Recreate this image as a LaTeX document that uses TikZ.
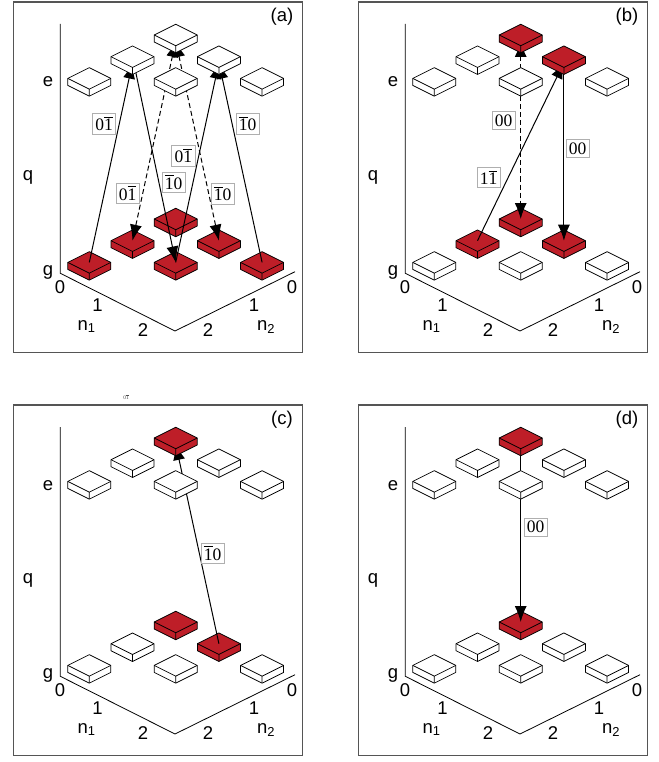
\documentclass[tikz,border=0pt]{standalone}
\usepackage{fontspec}
\setmainfont{Liberation Sans}
\newfontfamily\serifx{Liberation Serif}
\usetikzlibrary{arrows.meta}
\definecolor{tred}{RGB}{190,30,40}
\definecolor{lblgray}{RGB}{175,175,175}
\definecolor{framegray}{RGB}{85,85,85}
\newcommand\ob[1]{\leavevmode\vbox{\hrule height 0.045em\kern 0.09em\hbox{#1}}}
\tikzset{
  tile/.pic={
    \filldraw[fill=#1, line width=0.75pt, line join=round] (-21.5,0) -- (0,-10.75) -- (21.5,0) -- (21.5,7) -- (0,17.75) -- (-21.5,7) -- cycle;
    \draw[line width=0.75pt, line join=round] (-21.5,0) -- (0,10.75) -- (21.5,0) (0,10.75) -- (0,17.75);
  },
  axl/.style={font=\fontsize{18.5}{20}\selectfont, inner sep=0pt, anchor=base},
  axisline/.style={line width=0.8pt, line join=miter},
  frameline/.style={draw=framegray, line width=1.1pt},
  arr/.style={line width=1pt, -{Latex[length=16pt,width=12pt]}},
  darr/.style={line width=1pt, dash pattern=on 5pt off 3pt, {Latex[length=16pt,width=12pt]}-{Latex[length=16pt,width=12pt]}},
  lbl/.style={draw=lblgray, fill=white, line width=0.6pt, font=\serifx\fontsize{17.5}{19}\selectfont, inner xsep=2.8pt, inner ysep=3.2pt}
}
\newcommand\panelbase[2]{%
  \draw[frameline] (13.5,2) rectangle (302.5,352.5);
  \draw[axisline] (60.3,24) -- (60.3,273.3) -- (175,331) -- (295,271.7);
  \node[axl] (#1-le) at (48,87) {e};
  \node[axl] (#1-lq) at (28,180) {q};
  \node[axl] (#1-lg) at (48,275) {g};
  \node[axl] (#1-x0) at (60,293) {0};
  \node[axl] (#1-x1) at (97.5,311.7) {1};
  \node[axl] (#1-x2) at (143,336.7) {2};
  \node[axl] (#1-n1) at (86.5,330) {n\textsubscript{1}};
  \node[axl] (#1-y2) at (208,336.7) {2};
  \node[axl] (#1-y1) at (254,311.7) {1};
  \node[axl] (#1-y0) at (292,293) {0};
  \node[axl] (#1-n2) at (266,330) {n\textsubscript{2}};
  \node[axl] (#1-lab) at (282,21.4) {(#2)};
  \foreach \i/\j in {0/0,1/0,0/1,2/0,1/1,0/2} {
    \coordinate (#1-e\i\j) at ({175.7+43.2*(\i-\j)},{35+21.7*(\i+\j)});
    \coordinate (#1-t\i\j) at ({175.7+43.2*(\i-\j)},{41+21.7*(\i+\j)});
    \coordinate (#1-g\i\j) at ({175.7+43.2*(\i-\j)},{219+21.7*(\i+\j)});
  }
}
\begin{document}
\begin{tikzpicture}[x=1pt,y=-1pt]
\useasboundingbox (0,0) rectangle (658,762);

% ---------------- panel (a)
\begin{scope}
  \panelbase{a}{a}
  \foreach \c in {00,10,01,20,11,02} {\pic at (a-g\c) {tile=tred};}
  \draw[arr] (a-g02) -- (a-t01);
  \draw[arr] (a-e01) -- (a-g11);
  \draw[arr] (a-g11) -- (a-t10);
  \draw[arr] (a-g20) -- (a-t10);
  \draw[darr] (a-t00) -- (a-g01);
  \draw[darr] (a-t00) -- (a-g10);
  \foreach \c in {00,10,01,20,11,02} {\pic at (a-e\c) {tile=white};}
  \node[lbl] (a-lA) at (104,124) {0\ob{1}};
  \node[lbl] (a-lB) at (173.5,182.5) {\ob{1}0};
  \node[lbl] (a-lC) at (183.3,156) {0\ob{1}};
  \node[lbl] (a-lD) at (247.5,124) {\ob{1}0};
  \node[lbl] (a-lE) at (127.5,193.3) {0\ob{1}};
  \node[lbl] (a-lF) at (222.5,194) {\ob{1}0};
\end{scope}

% ---------------- panel (b)
\begin{scope}[shift={(345,0)}]
  \panelbase{b}{b}
  \pic at (b-g00) {tile=tred};
  \pic at (b-g10) {tile=tred};
  \pic at (b-g01) {tile=tred};
  \pic at (b-g20) {tile=white};
  \pic at (b-g11) {tile=white};
  \pic at (b-g02) {tile=white};
  \draw[darr] (b-t00) -- (b-g00);
  \draw[arr] (b-g01) -- (b-t10);
  \draw[arr] (b-e10) -- (b-g10);
  \pic at (b-e00) {tile=tred};
  \pic at (b-e10) {tile=tred};
  \pic at (b-e01) {tile=white};
  \pic at (b-e20) {tile=white};
  \pic at (b-e11) {tile=white};
  \pic at (b-e02) {tile=white};
  \node[lbl] (b-lA) at (158.5,120.5) {00};
  \node[lbl] (b-lB) at (232.5,148.5) {00};
  \node[lbl] (b-lC) at (143.5,177.5) {1\ob{1}};
\end{scope}

% ---------------- panel (c)
\begin{scope}[shift={(0,403)}]
  \panelbase{c}{c}
  \pic at (c-g00) {tile=tred};
  \pic at (c-g10) {tile=tred};
  \pic at (c-g01) {tile=white};
  \pic at (c-g20) {tile=white};
  \pic at (c-g11) {tile=white};
  \pic at (c-g02) {tile=white};
  \draw[arr] (c-g10) -- (c-t00);
  \pic at (c-e00) {tile=tred};
  \foreach \c in {10,01,20,11,02} {\pic at (c-e\c) {tile=white};}
  \node[lbl] (c-lA) at (212.5,150.3) {\ob{1}0};
\end{scope}
\node[font=\serifx\fontsize{5.5}{6}\selectfont, text=black!70, inner sep=0pt] (stray) at (126,397.5) {0\ob{1}};

% ---------------- panel (d)
\begin{scope}[shift={(345,403)}]
  \panelbase{d}{d}
  \pic at (d-g00) {tile=tred};
  \foreach \c in {10,01,20,11,02} {\pic at (d-g\c) {tile=white};}
  \draw[arr] (d-e00) -- (d-g00);
  \pic at (d-e00) {tile=tred};
  \foreach \c in {10,01,20,11,02} {\pic at (d-e\c) {tile=white};}
  \node[lbl] (d-lA) at (190.7,124) {00};
\end{scope}
\end{tikzpicture}
\end{document}
